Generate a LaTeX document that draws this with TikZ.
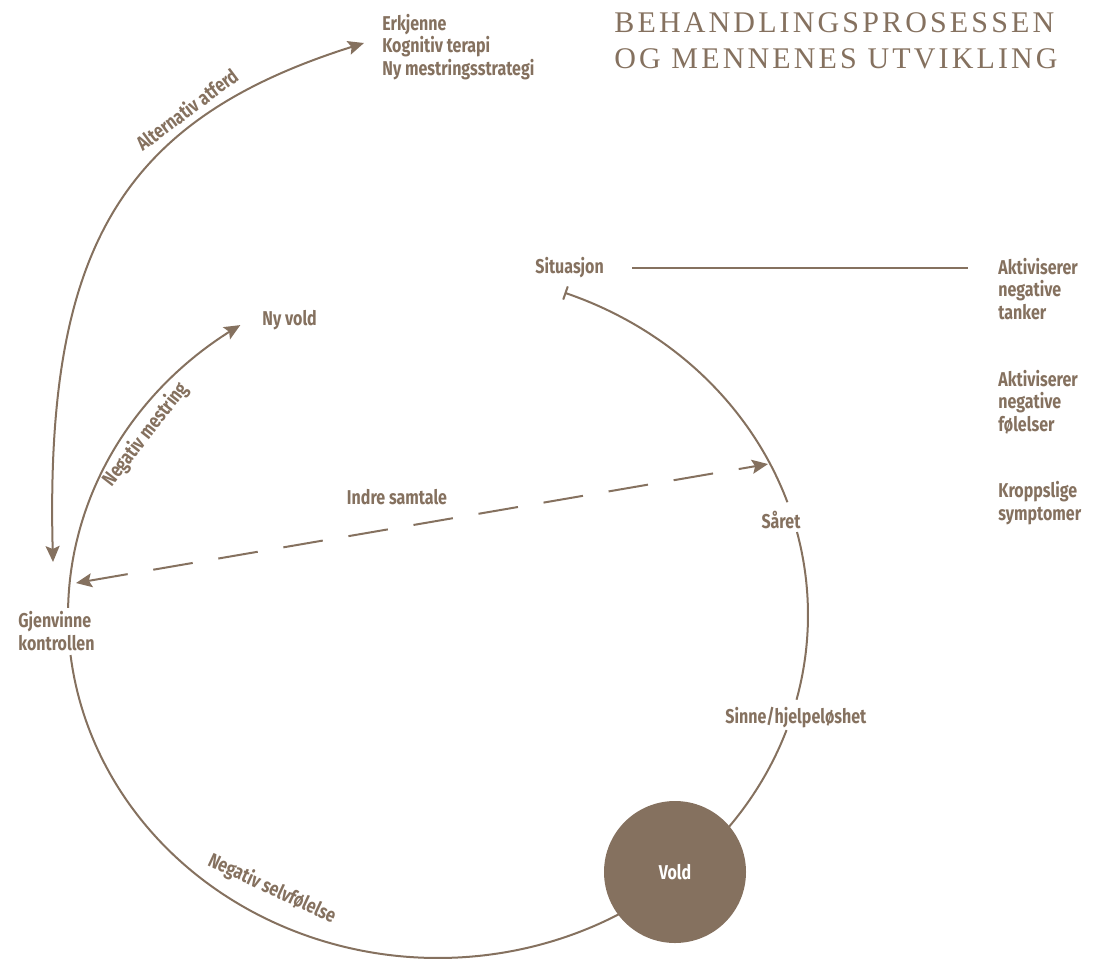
\documentclass[tikz,border=0pt]{standalone}
\usepackage{fontspec}
\usetikzlibrary{arrows.meta}
\newfontfamily\condfont[FakeStretch=0.8]{Fira Sans}
\newfontfamily\titlefont[LetterSpace=10.5]{Liberation Serif}
\definecolor{brn}{RGB}{133,113,95}
\begin{document}
\begin{tikzpicture}[x=0.5pt,y=-0.5pt,
  lbl/.style={font=\condfont\bfseries\fontsize{10}{11.25}\selectfont, text=brn, inner sep=0pt, align=left},
  conn/.style={draw=brn, line width=1pt},
  tip/.style={-{Stealth[length=8pt,width=7pt,inset=1.5pt]}},
  tips/.style={{Stealth[length=8pt,width=7pt,inset=1.5pt]}-{Stealth[length=8pt,width=7pt,inset=1.5pt]}},
  ttl/.style={font=\titlefont\fontsize{15}{18}\selectfont, text=brn, inner sep=0pt, anchor=base west}]
\useasboundingbox (0,0) rectangle (1109,960);
% title
\node[ttl] (t1) at (614,32) {BEHANDLINGSPROSESSEN};
\node[ttl] (t2) at (614,68) {OG MENNENES UTVIKLING};
% labels
\node[lbl, anchor=west] (erk) at (382,47) {Erkjenne\\Kognitiv terapi\\Ny mestringsstrategi};
\node[lbl, anchor=west] (sit) at (535,268) {Situasjon};
\node[lbl, anchor=west] (nyv) at (262,320) {Ny vold};
\node[lbl, anchor=west] (akt1) at (998,289) {Aktiviserer\\negative\\tanker};
\node[lbl, anchor=west] (akt2) at (998,402) {Aktiviserer\\negative\\følelser};
\node[lbl, anchor=west] (krp) at (998,503) {Kroppslige\\symptomer};
\node[lbl] (sar) at (781,520) {Såret};
\node[lbl, anchor=west] (sin) at (725,718) {Sinne/hjelpeløshet};
\node[lbl, anchor=west] (gje) at (18,631) {Gjenvinne\\kontrollen};
\node[lbl] (ind) at (397,497) {Indre samtale};
\node[lbl, rotate=52, anchor=north] (neg) at (137,428) {Negativ mestring};
\node[lbl, rotate=-25] (sel) at (272,889) {Negativ selvfølelse};
% coordinates
\coordinate (altA) at (53,562);
\coordinate (altB) at (364,43);
\coordinate (dsA) at (768,464);
\coordinate (dsB) at (76,583);
\coordinate (lnA) at (632,268);
\coordinate (lnB) at (968,268);
% Situasjon line
\draw[conn] (lnA) -- (lnB);
% big loop
\draw[conn, {Bar[width=7pt]}-] plot[domain=-70:-19.2, samples=60, smooth] ({438+370*cos(\x)},{615+343*sin(\x)});
\draw[conn] plot[domain=-14:14.3, samples=40, smooth] ({438+370*cos(\x)},{615+343*sin(\x)});
\draw[conn] plot[domain=19.6:173.3, samples=150, smooth] ({438+370*cos(\x)},{615+343*sin(\x)});
\draw[conn, tip] plot[domain=181.2:237.7, samples=60, smooth] ({438+370*cos(\x)},{615+343*sin(\x)});
% alternative behaviour arc
\draw[conn, tips] (altA) .. controls (45,250) and (120,120) .. (altB)
  node[lbl, pos=0.72, sloped, above, inner sep=4pt] (alt) {Alternativ atferd};
% inner dialogue
\draw[conn, dash pattern=on 20pt off 13pt, tips] (dsB) -- (dsA);
% violence circle
\node[circle, fill=brn, minimum size=71pt, inner sep=0pt, text=white, font=\condfont\bfseries\fontsize{10}{12}\selectfont] (vold) at (675,872) {Vold};
\end{tikzpicture}
\end{document}
